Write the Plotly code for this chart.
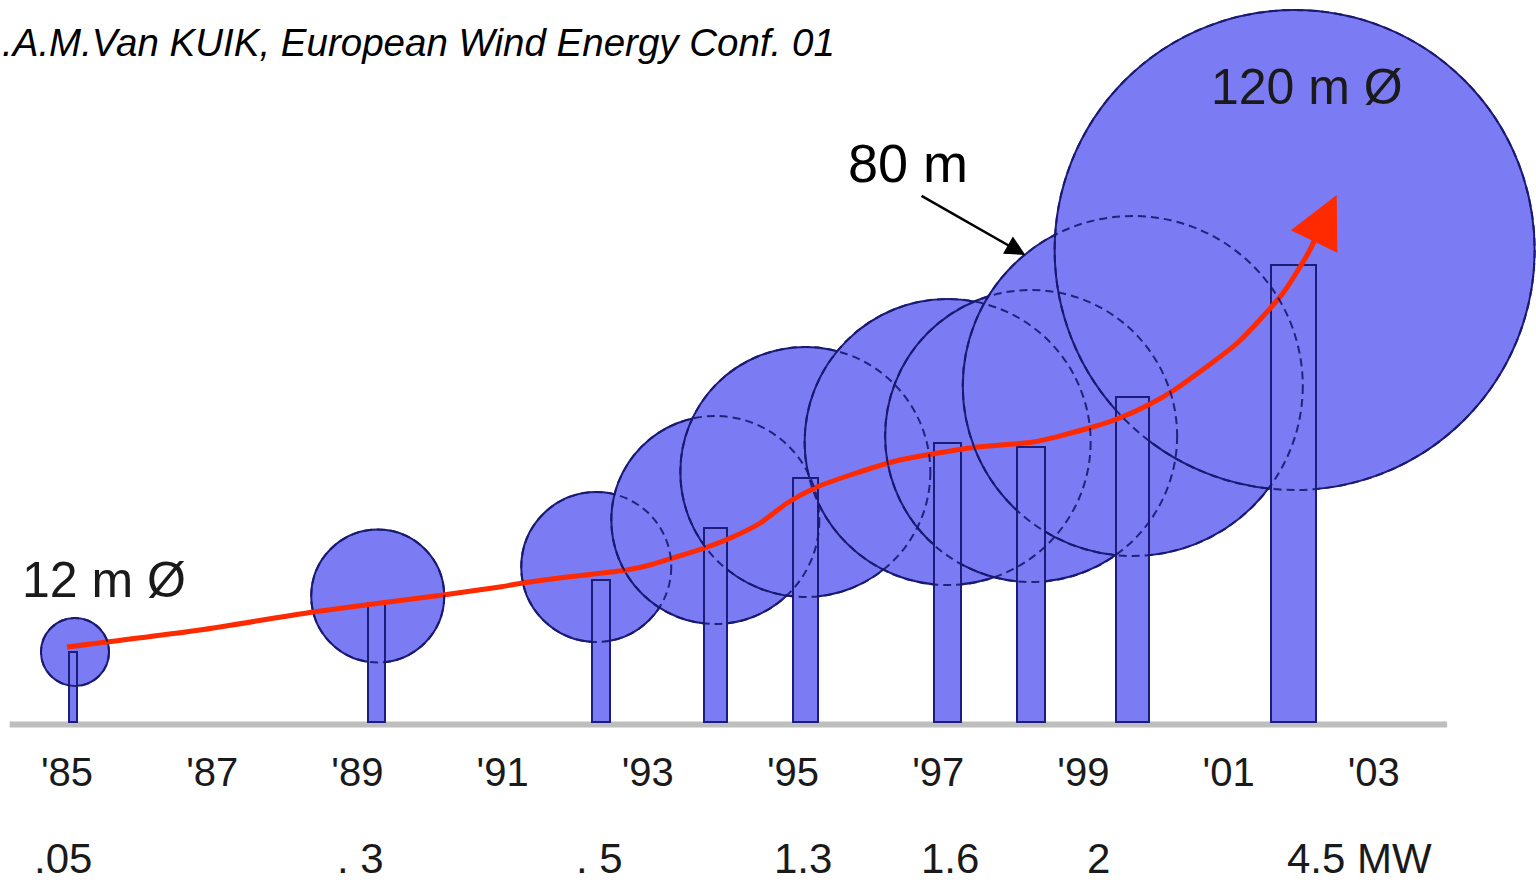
import plotly.graph_objects as go

# ---------------- data ----------------
year_ticks = [1985, 1987, 1989, 1991, 1993, 1995, 1997, 1999, 2001, 2003]
year_labels = ["'85", "'87", "'89", "'91", "'93", "'95", "'97", "'99", "'01", "'03"]

# turbine towers (year of introduction, tower top height, tower width)
tower_year = [1985.08, 1989.26, 1992.36, 1993.93, 1995.17, 1997.13, 1998.28, 1999.68, 2001.90]
tower_height_m = [17.5, 29.8, 35.5, 48.5, 61.0, 69.8, 68.8, 81.3, 114.3]
tower_width_m = [2.0, 4.25, 4.5, 5.75, 6.25, 6.75, 7.0, 8.25, 11.25]

# rotor discs (centre year, hub height, drawn diameter)
rotor_year = [1985.11, 1989.28, 1992.29, 1993.93, 1995.17, 1997.13, 1998.28, 1999.68, 2001.91]
hub_height_m = [17.5, 31.5, 38.75, 50.5, 62.5, 70.0, 71.5, 84.0, 118.0]
rotor_diam_m = [17.0, 33.25, 37.5, 52.0, 62.5, 71.5, 73.0, 85.0, 120.0]

# rated power row
power_year = [1984.94, 1989.04, 1992.34, 1995.14, 1997.16, 1999.21, 2002.80]
power_labels = [".05", ". 3", ". 5", "1.3", "1.6", "2", "4.5 MW"]

# red growth trend
trend_year = [1985.00, 1986.83, 1988.39, 1990.18, 1990.96, 1991.28, 1991.89, 1992.71,
              1993.03, 1993.48, 1993.82, 1994.17, 1994.55, 1994.92, 1995.33, 1995.79,
              1996.47, 1997.53, 1998.31, 1999.13, 1999.50, 1999.92, 2000.23, 2001.12,
              2001.75, 2002.12, 2002.30]
trend_m = [18.75, 23.0, 27.5, 31.75, 33.75, 34.75, 36.25, 38.0,
           39.25, 41.75, 43.75, 46.25, 49.75, 54.75, 58.75, 61.75,
           65.5, 68.75, 70.0, 73.75, 76.0, 79.5, 82.75, 94.75,
           107.25, 118.0, 125.5]
trend_tip = (2002.49, 131.75)

label_80 = {"text": "80 m", "x": 1996.58, "y": 139.75, "tip": (1998.20, 116.75), "tail": (1996.75, 131.75)}
label_12 = {"text": "12 m Ø", "x": 1985.51, "y": 35.5}
label_120 = {"text": "120 m Ø", "x": 2002.08, "y": 158.75}
source_text = ".A.M.Van KUIK, European Wind Energy Conf. 01"

ground_start, ground_end = 1984.21, 2004.01

# ---------------- styling ----------------
W, H = 1536, 882
MB = 147
PX_PER_YEAR = 72.6
PX_PER_M = 4.0
K = PX_PER_M / PX_PER_YEAR  # metres -> years on screen
FILL = "#7B7BF4"
EDGE = "#1C1C7A"
FONT = "Liberation Sans, Arial, sans-serif"

x0_year = 1985 - 67 / PX_PER_YEAR
x_range = [x0_year, x0_year + W / PX_PER_YEAR]
plot_h = H - MB
y_range = [-(plot_h - 722) / PX_PER_M, 722 / PX_PER_M]

shapes = []
shapes.append(dict(type="line", xref="x", yref="y", x0=ground_start, x1=ground_end,
                   y0=-0.6, y1=-0.6, line=dict(color="#BEBEBE", width=6), layer="below"))
for yr, hh, d in zip(rotor_year, hub_height_m, rotor_diam_m):
    r = d / 2
    shapes.append(dict(type="circle", xref="x", yref="y",
                       x0=yr - r * K, x1=yr + r * K, y0=hh - r, y1=hh + r,
                       fillcolor=FILL, line=dict(color=EDGE, width=2), layer="below"))
for yr, hh, d in zip(rotor_year, hub_height_m, rotor_diam_m):
    r = d / 2
    shapes.append(dict(type="circle", xref="x", yref="y",
                       x0=yr - r * K, x1=yr + r * K, y0=hh - r, y1=hh + r,
                       fillcolor="rgba(0,0,0,0)",
                       line=dict(color="rgba(24,24,110,0.9)", width=2, dash="8px,5px"),
                       layer="above"))

fig = go.Figure()
fig.add_trace(go.Bar(x=tower_year, y=tower_height_m,
                     width=[w * K for w in tower_width_m],
                     marker=dict(color=FILL, line=dict(color=EDGE, width=2)),
                     hoverinfo="skip", showlegend=False))
fig.add_trace(go.Scatter(x=trend_year, y=trend_m, mode="lines",
                         line=dict(color="#FF2A00", width=5, shape="spline", smoothing=0.6),
                         hoverinfo="skip", showlegend=False))

annotations = []
annotations.append(dict(x=trend_tip[0], y=trend_tip[1], ax=trend_year[-2], ay=trend_m[-2],
                        xref="x", yref="y", axref="x", ayref="y", text="",
                        showarrow=True, arrowhead=2, arrowsize=2.3, arrowwidth=4.5,
                        arrowcolor="#FF2A00", standoff=0))
annotations.append(dict(x=label_80["tip"][0], y=label_80["tip"][1],
                        ax=label_80["tail"][0], ay=label_80["tail"][1],
                        xref="x", yref="y", axref="x", ayref="y", text="",
                        showarrow=True, arrowhead=2, arrowsize=1.6, arrowwidth=2.5,
                        arrowcolor="#000000", standoff=0))
annotations.append(dict(x=label_80["x"], y=label_80["y"], xref="x", yref="y",
                        text=label_80["text"], showarrow=False,
                        font=dict(family=FONT, size=54, color="#000000")))
for lab in (label_12, label_120):
    annotations.append(dict(x=lab["x"], y=lab["y"], xref="x", yref="y",
                            text=lab["text"], showarrow=False,
                            font=dict(family=FONT, size=50, color="#1a1a1a")))
annotations.append(dict(x=0, y=1 - 42 / plot_h, xref="paper", yref="paper",
                        xanchor="left", yanchor="middle", showarrow=False,
                        text="<i>" + source_text + "</i>",
                        font=dict(family=FONT, size=38.5, color="#000000")))
for yr, lab in zip(power_year, power_labels):
    annotations.append(dict(x=yr, y=-(858 - plot_h) / plot_h, xref="x", yref="paper",
                            yanchor="middle", text=lab, showarrow=False,
                            font=dict(family=FONT, size=42, color="#1a1a1a")))

fig.update_layout(
    width=W, height=H,
    margin=dict(l=0, r=0, t=0, b=MB),
    paper_bgcolor="white", plot_bgcolor="white",
    shapes=shapes, annotations=annotations,
    bargap=0,
    xaxis=dict(range=x_range, tickvals=year_ticks, ticktext=year_labels,
               showgrid=False, zeroline=False, showline=False, ticks="",
               ticklabelstandoff=10,
               tickfont=dict(family=FONT, size=40, color="#1a1a1a")),
    yaxis=dict(range=y_range, visible=False, showgrid=False, zeroline=False),
    showlegend=False,
)

fig.write_html("out.html", config={"displayModeBar": False},
               post_script="document.body.style.margin='0';document.body.style.overflow='hidden';")
